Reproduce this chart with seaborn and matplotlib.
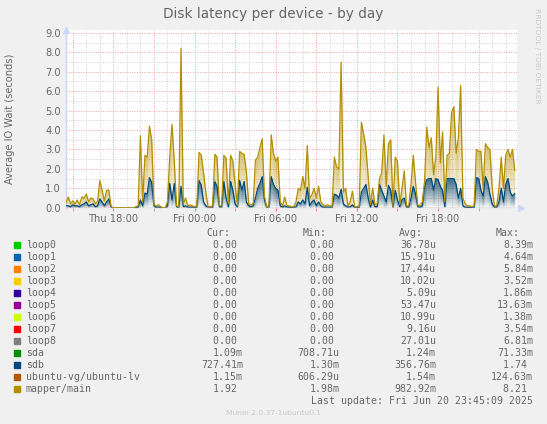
import numpy as np
import pandas as pd
import seaborn as sns
import matplotlib
matplotlib.use("Agg")
import matplotlib.pyplot as plt
import matplotlib.dates as mdates
from matplotlib.patches import Rectangle

# samples every 10 minutes, Thu 14:30 -> Fri 23:40
start = "2025-06-19 14:30"
n_samples = 200

mapper_main = [
    0.25, 0.55, 0.2, 0.35, 0.2, 0.4, 0.15, 0.55, 0.5, 0.7,
    0.3, 0.5, 0.45, 0.2, 0.35, 1.4, 0.9, 0.35, 0.9, 0.9,
    0.05, 0, 0, 0, 0, 0, 0, 0, 0, 0,
    0, 0.05, 0.1, 3.7, 0.3, 2.7, 2.6, 4.2, 3.5, 0.15,
    0.1, 0.15, 0.05, 0, 0, 0.3, 2.6, 4.3, 2.45, 0.1,
    0.05, 8.2, 0.2, 0.5, 0.1, 0.15, 0.1, 0.05, 0.05, 2.85,
    2.7, 1.8, 0.8, 0.05, 0.05, 0.1, 2.75, 2.6, 0.1, 0.1,
    2.7, 2.55, 0.2, 2.7, 2.4, 1.2, 0.1, 2.9, 2.8, 2.75,
    1.85, 0.2, 0.15, 0.2, 2.45, 2.6, 3.1, 3.55, 0.6, 0.05,
    0.1, 3.75, 2.8, 2.4, 2.6, 0.3, 0.1, 0.55, 0.1, 0.1,
    0.05, 0.05, 0.3, 1.0, 0.9, 1.6, 1.0, 3.2, 0.5, 0.65,
    1.0, 0.5, 1.1, 0.3, 0.15, 0.1, 0.15, 0.1, 0.05, 2.6,
    2.1, 2.0, 7.5, 0.8, 1.0, 0.1, 0.3, 0.85, 0.05, 0.05,
    0.05, 4.4, 3.8, 3.1, 1.6, 0.15, 1.0, 0.15, 0.2, 1.5,
    1.8, 3.75, 1.1, 3.3, 3.5, 0.05, 2.6, 2.4, 0.15, 1.0,
    1.9, 0.1, 0.1, 1.2, 2.7, 1.3, 0.15, 0.1, 0.3, 1.35,
    4.15, 3.1, 3.6, 1.7, 2.6, 6.2, 2.3, 3.9, 0.3, 2.7,
    2.8, 4.9, 5.2, 2.8, 3.6, 6.3, 0.5, 0.2, 0.1, 0.1,
    0.05, 0.1, 3.0, 2.9, 2.9, 1.0, 3.3, 3.1, 3.0, 1.0,
    0.1, 0.1, 1.0, 2.6, 1.0, 2.7, 3.0, 2.6, 3.0, 1.92,
]

sdb = [
    0.1, 0.1, 0.05, 0.15, 0.1, 0.1, 0.05, 0.15, 0.2, 0.3,
    0.1, 0.15, 0.2, 0.05, 0.1, 0.45, 0.3, 0.1, 0.3, 0.45,
    0.02, 0, 0, 0, 0, 0, 0, 0, 0, 0,
    0, 0.02, 0.03, 0.4, 0.1, 0.75, 0.7, 1.55, 1.3, 0.1,
    0.03, 0.03, 0.02, 0, 0, 0.1, 1.25, 0.4, 1.25, 0.05,
    0.02, 1.1, 0.05, 0.1, 0.03, 0.03, 0.03, 0.02, 0.02, 1.4,
    1.15, 0.3, 0.1, 0.03, 0.03, 0.03, 1.35, 1.1, 0.05, 0.05,
    1.35, 0.5, 0.05, 1.35, 0.9, 0.2, 0.05, 1.4, 0.9, 1.35,
    0.3, 0.1, 0.05, 0.1, 0.5, 1.0, 1.25, 1.6, 0.4, 0.03,
    0.05, 1.6, 1.2, 1.0, 0.9, 0.1, 0.03, 0.1, 0.03, 0.03,
    0.02, 0.02, 0.05, 0.3, 0.2, 0.4, 0.2, 1.05, 0.1, 0.3,
    0.4, 0.1, 0.3, 0.1, 0.03, 0.03, 0.03, 0.03, 0.02, 0.7,
    0.65, 0.5, 0.95, 0.2, 0.1, 0.03, 0.05, 0.15, 0.02, 0.02,
    0.02, 0.8, 1.0, 1.2, 0.5, 0.03, 0.4, 0.05, 0.05, 1.2,
    0.9, 0.6, 0.3, 1.15, 0.9, 0.03, 0.9, 0.4, 0.05, 0.4,
    0.5, 0.03, 0.03, 0.5, 1.1, 0.7, 0.05, 0.03, 0.1, 1.1,
    1.45, 1.5, 1.5, 0.9, 1.5, 1.45, 1.1, 0.9, 0.05, 1.5,
    1.5, 1.5, 1.5, 1.2, 0.5, 1.0, 0.1, 0.03, 0.02, 0.02,
    0.02, 0.03, 1.55, 1.5, 0.9, 0.6, 1.6, 1.3, 0.7, 0.2,
    0.03, 0.03, 0.3, 1.0, 0.3, 1.2, 1.5, 0.8, 0.6, 0.73,
]

devices = ["loop0", "loop1", "loop2", "loop3", "loop4", "loop5", "loop6",
           "loop7", "loop8", "sda", "sdb", "ubuntu-vg/ubuntu-lv", "mapper/main"]
dev_colors = ["#00CC00", "#0066B3", "#FF8000", "#FFCC00", "#330099", "#990099",
              "#CCFF00", "#FF0000", "#808080", "#008F00", "#00487D", "#B35A00",
              "#B38F00"]
cur = ["0.00", "0.00", "0.00", "0.00", "0.00", "0.00", "0.00", "0.00", "0.00",
       "1.09m", "727.41m", "1.15m", "1.92"]
mins = ["0.00", "0.00", "0.00", "0.00", "0.00", "0.00", "0.00", "0.00", "0.00",
        "708.71u", "1.30m", "606.29u", "1.98m"]
avgs = ["36.78u", "15.91u", "17.44u", "10.02u", "5.09u", "53.47u", "10.99u",
        "9.16u", "27.01u", "1.24m", "356.76m", "1.54m", "982.92m"]
maxs = ["8.39m", "4.64m", "5.84m", "3.52m", "1.86m", "13.63m", "1.38m",
        "3.54m", "6.81m", "71.33m", "1.74", "124.63m", "8.21"]

W, H = 547, 424
FONT = "#666666"
AXIS = "#CFD6F8"

times = pd.date_range(start, periods=n_samples, freq="10min")
df = pd.DataFrame({"time": times, "mapper": mapper_main, "sdb": sdb})

fig = plt.figure(figsize=(W / 100, H / 100), dpi=100, facecolor="#F0F0F0")
ax = fig.add_axes([66 / W, 1 - 207.7 / H, 451 / W, 177.7 / H])
ax.set_facecolor("white")

t0 = pd.Timestamp("2025-06-19 14:30")
t1 = pd.Timestamp("2025-06-20 23:50")
ax.set_xlim(t0, t1)
ax.set_ylim(0, 9.15)

# grid
for h in pd.date_range("2025-06-19 15:00", "2025-06-20 23:00", freq="1h"):
    c = "#F2A0A0" if h.hour % 3 == 0 else "#D0D0D0"
    ax.axvline(h, color=c, lw=0.7, ls=(0, (1, 1.5)), zorder=0.5)
for v in np.arange(0.5, 9.01, 0.5):
    c = "#F2A0A0" if v % 1 == 0 else "#D0D0D0"
    ax.axhline(v, color=c, lw=0.7, ls=(0, (1, 1.5)), zorder=0.5)


def grad_fill(x, y, color, amax, n=10):
    y = np.asarray(y, dtype=float)
    for k in range(n):
        ax.fill_between(x, y * k / n, y * (k + 1) / n, color=color,
                        alpha=amax * (k + 0.5) / n, lw=0, zorder=1)


grad_fill(df["time"], df["mapper"], "#B38F00", 0.55)
grad_fill(df["time"], df["sdb"], "#00487D", 0.75)

sns.lineplot(data=df, x="time", y="sdb", ax=ax, color="#00487D", lw=0.9,
             estimator=None, zorder=3)
sns.lineplot(data=df, x="time", y="mapper", ax=ax, color="#B38F00", lw=0.9,
             estimator=None, zorder=4)

ax.axhline(0, color="#C9A59C", lw=1.0, zorder=5)

for s in ["top", "right", "bottom"]:
    ax.spines[s].set_visible(False)
ax.spines["left"].set_color(AXIS)
ax.spines["left"].set_linewidth(1.0)
ax.plot([0], [1.0], marker="^", ms=4, color=AXIS, transform=ax.transAxes,
        clip_on=False, zorder=6)
ax.plot([1.008], [0], marker=">", ms=4, color=AXIS, transform=ax.transAxes,
        clip_on=False, zorder=6)

ax.set_xlabel("")
ax.set_ylabel("")
ax.xaxis.set_major_locator(mdates.HourLocator(byhour=[0, 6, 12, 18]))
ax.xaxis.set_major_formatter(mdates.DateFormatter("%a %H:%M"))
ax.xaxis.set_minor_locator(mdates.HourLocator(byhour=[3, 9, 15, 21]))
ax.tick_params(axis="x", which="both", length=2, color="#E08080",
               labelsize=7.1, labelcolor=FONT, pad=2.5)
ax.set_yticks(np.arange(0, 9.01, 1.0))
ax.set_yticklabels([f"{v:.1f}" for v in np.arange(0, 9.01, 1.0)])
ax.tick_params(axis="y", length=0, labelsize=7.1, labelcolor=FONT, pad=3.6)

fig.text(273.5 / W, 1 - 14 / H, "Disk latency per device - by day",
         ha="center", va="center", fontsize=9.8, color=FONT)
fig.text(10.5 / W, 1 - 119 / H, "Average IO Wait (seconds)", rotation=90,
         ha="center", va="center", fontsize=7.1, color=FONT)
fig.text(537 / W, 1 - 56 / H, "RRDTOOL / TOBI OETIKER", rotation=270,
         ha="center", va="center", fontsize=5.4, color="#C8C8C8")

# legend table
mono = "DejaVu Sans Mono"
fs = 7.1
col_right = [243.2, 339.5, 436.2, 533.2]
head_right = [230.3, 326.2, 422.9, 519.9]
for xr, lab in zip(head_right, ["Cur:", "Min:", "Avg:", "Max:"]):
    fig.text(xr / W, 1 - 232.7 / H, lab, ha="right", va="center",
             family=mono, fontsize=fs, color=FONT)


def pad(s):
    return s if s[-1] in "mu" else s + " "


for k, name in enumerate(devices):
    yc = 245 + 12 * k
    fig.add_artist(Rectangle((14 / W, 1 - (yc + 3) / H), 6 / W, 6 / H,
                             transform=fig.transFigure, color=dev_colors[k]))
    fig.text(26 / W, 1 - yc / H, name, ha="left", va="center",
             family=mono, fontsize=fs, color=FONT)
    for xr, vals in zip(col_right, [cur, mins, avgs, maxs]):
        fig.text(xr / W, 1 - yc / H, pad(vals[k]), ha="right", va="center",
                 family=mono, fontsize=fs, color=FONT)

fig.text(533 / W, 1 - 400.7 / H, "Last update: Fri Jun 20 23:45:09 2025",
         ha="right", va="center", family=mono, fontsize=fs, color=FONT)
fig.text(273 / W, 1 - 413.3 / H, "Munin 2.0.37-1ubuntu0.1", ha="center",
         va="center", fontsize=5.4, color="#C8C8C8")

fig.savefig("out.png", dpi=100, facecolor=fig.get_facecolor())
